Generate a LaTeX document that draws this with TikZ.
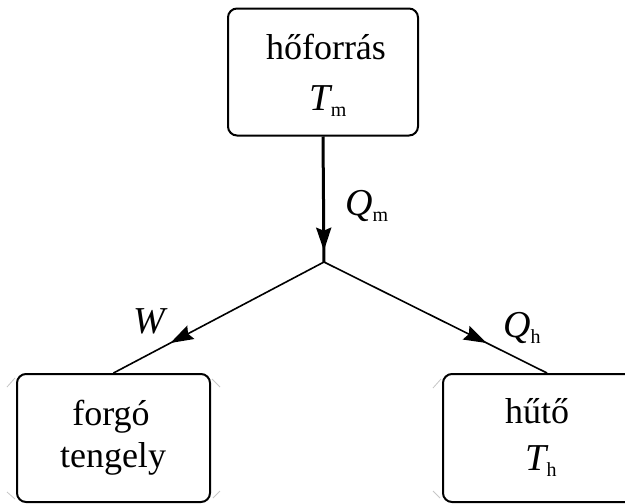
\documentclass[tikz,border=0pt]{standalone}
\usepackage{fontspec}
\setmainfont{Liberation Serif}
\usetikzlibrary{arrows.meta,decorations.markings}
\newcommand{\bigtxt}{\fontsize{36}{40}\selectfont}
\newcommand{\ital}[1]{{\fontsize{38}{40}\selectfont\itshape #1}}
\newcommand{\subtxt}[1]{\raisebox{-6.5pt}{\fontsize{20}{20}\selectfont #1}}
\tikzset{
  box/.style={draw, line width=2pt, rounded corners=9pt, inner sep=0pt},
  txt/.style={anchor=base, inner sep=0pt, font=\bigtxt},
  flow/.style={line width=1.6pt},
  mainflow/.style={line width=3pt},
  ghost/.style={draw=black!22, line width=0.8pt},
  tipat/.style={postaction={decorate}, decoration={markings,
     mark=at position #1 with {\arrow{Stealth[length=23pt,width=15pt,inset=3pt]}}}}
}
\begin{document}
\begin{tikzpicture}[x=1pt,y=-1pt]
\useasboundingbox (0,0) rectangle (625,504);
\clip (0,0) rectangle (625,504);
% boxes
\node[box, minimum width=190pt, minimum height=127pt] (src) at (323,72) {};
\node[box, minimum width=193pt, minimum height=128pt] (eng) at (113.5,438) {};
\node[box, minimum width=208pt, minimum height=128pt] (snk) at (547,438) {};
\coordinate (j) at (324,262);
% faint corner marks
\draw[ghost] (7,387) -- (15,378);
\draw[ghost] (212,379) -- (220,387);
\draw[ghost] (7,492) -- (15,499);
\draw[ghost] (213,498) -- (220,491);
\draw[ghost] (433,388) -- (441,379);
\draw[ghost] (433,491) -- (440,498);
% texts
\node[txt] (t1) at (326,59) {hőforrás};
\node[txt] (t2) at (328,110) {\ital{T}\subtxt{m}};
\node[txt] (t3) at (111,425) {forgó};
\node[txt] (t4) at (113,467) {tengely};
\node[txt] (t5) at (537,423) {hűtő};
\node[txt] (t6) at (541,470) {\ital{T}\subtxt{h}};
% connectors
\draw[mainflow, tipat=0.91] (src.south) -- (j);
\draw[flow, tipat=0.73] (j) -- (eng.north);
\draw[flow, tipat=0.73] (j) -- (snk.north);
% labels
\node[txt, anchor=base west] (lqm) at (345,215) {\ital{Q}\subtxt{m}};
\node[txt, anchor=base west] (lw) at (133,333) {\ital{W}};
\node[txt, anchor=base west] (lqh) at (503,337) {\ital{Q}\subtxt{h}};
\end{tikzpicture}
\end{document}
